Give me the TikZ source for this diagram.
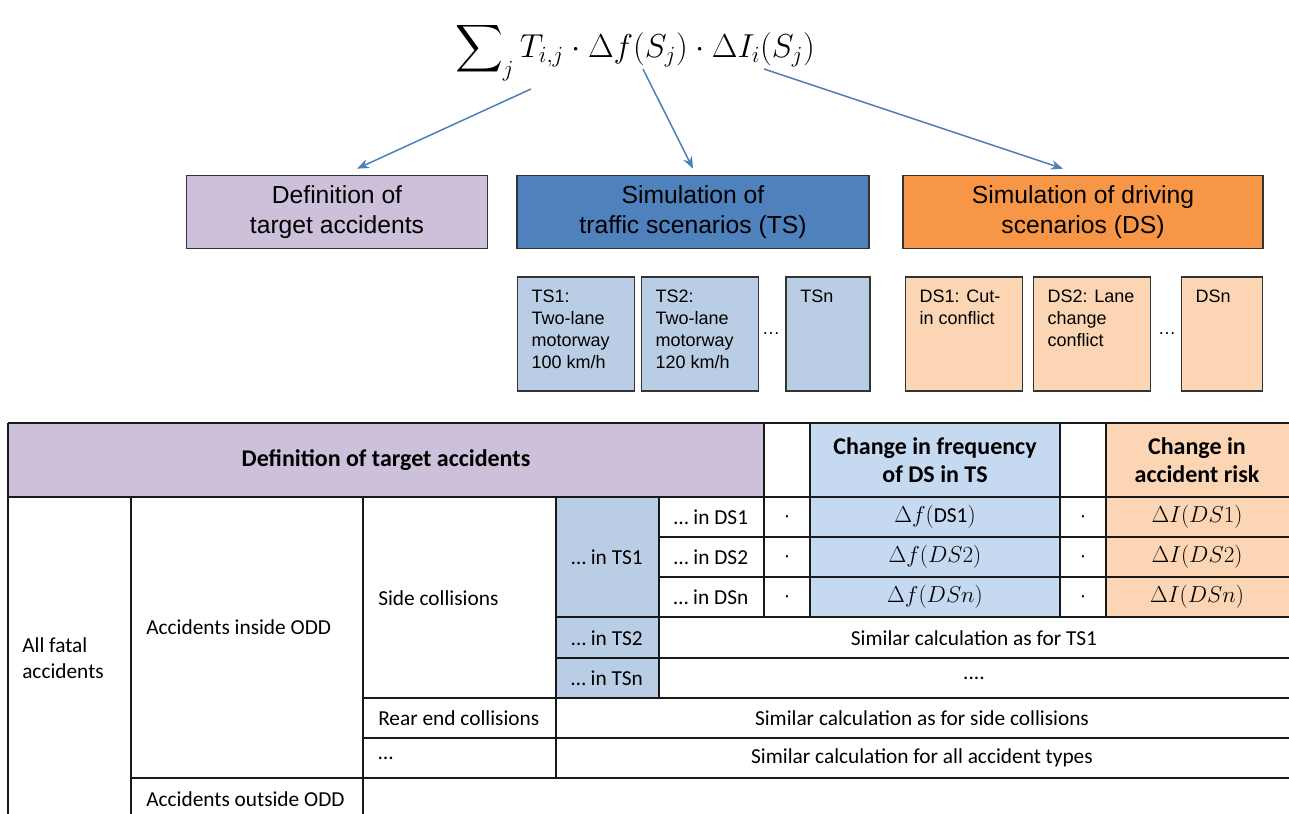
\documentclass[tikz,border=0pt]{standalone}
\usepackage{amsmath}
\usepackage{fontspec}
\setmainfont{Carlito}
\newfontfamily\arialfont{Liberation Sans}
\usetikzlibrary{arrows.meta,calc}

\definecolor{lilac}{RGB}{204,192,218}
\definecolor{tsdark}{RGB}{79,129,189}
\definecolor{dsdark}{RGB}{247,150,70}
\definecolor{tslight}{RGB}{185,205,229}
\definecolor{dslight}{RGB}{252,213,180}
\definecolor{freqblue}{RGB}{197,217,241}
\definecolor{arrblue}{RGB}{74,126,187}

\begin{document}
\begin{tikzpicture}[x=0.75pt,y=-0.75pt,
    bigbox/.style={draw=black!80,line width=1pt,minimum height=55pt,align=center,
        font=\arialfont\fontsize{18.5}{22.5}\selectfont},
    smallbox/.style={draw=black!80,line width=1pt,minimum height=85.5pt,minimum width=88pt},
    boxtext/.style={anchor=north west,align=left,inner xsep=11pt,inner ysep=10pt,
        font=\arialfont\fontsize{13.5}{16.5}\selectfont},
    arr/.style={draw=arrblue,line width=1.1pt,-{Stealth[length=9pt,width=7pt]}},
    tline/.style={line width=1.3pt,black!90},
    txt/.style={inner sep=0pt,align=left,font=\fontsize{16}{19.5}\selectfont},
    hd/.style={inner sep=0pt,align=center,font=\bfseries\fontsize{18}{21}\selectfont}]
    \useasboundingbox (0,0) rectangle (1289,814);
    \clip (0,0) rectangle (1289,814);

    % formula and the three parts
    \node[inner sep=0pt] at (635,52) (sum) {\fontsize{23}{28}\selectfont
        $\displaystyle\sum\nolimits_j T_{i,j}\cdot\Delta f(S_j)\cdot\Delta I_i(S_j)$};
    \coordinate (tij) at (531,89);
    \coordinate (fs) at (643,69);
    \coordinate (is) at (764,69);

    \node[bigbox,fill=lilac,minimum width=226pt] at (337,212) (def) {Definition of\\target accidents};
    \node[bigbox,fill=tsdark,minimum width=264pt] at (693,212) (ts) {Simulation of\\traffic scenarios (TS)};
    \node[bigbox,fill=dsdark,minimum width=270pt] at (1083,212) (ds) {Simulation of driving\\scenarios (DS)};
    \draw[arr] (tij)--([xshift=15pt,yshift=4.5pt]def.north);
    \draw[arr] (fs)--([yshift=4.5pt]ts.north);
    \draw[arr] (is)--([xshift=-15pt,yshift=4.5pt]ds.north);

    % scenario boxes
    \node[smallbox,fill=tslight,label={[boxtext]north west:TS1:\\Two-lane\\motorway\\100 km/h}] at (576,334) (ts1) {};
    \node[smallbox,fill=tslight,label={[boxtext]north west:TS2:\\Two-lane\\motorway\\120 km/h}] at (700,334) (ts2) {};
    \node[smallbox,fill=tslight,minimum width=63pt,label={[boxtext]north west:TSn}] at (828,334) (tsn) {};
    \node[font=\arialfont\fontsize{13.5}{16}\selectfont] at (771,334) (tsdots) {\dots};
    \node[smallbox,fill=dslight,label={[boxtext]north west:DS1: Cut-\\in conflict}] at (964,334) (ds1) {};
    \node[smallbox,fill=dslight,label={[boxtext]north west:DS2: Lane\\change\\conflict}] at (1092,334) (ds2) {};
    \node[smallbox,fill=dslight,minimum width=61pt,label={[boxtext]north west:DSn}] at (1222,334) (dsn) {};
    \node[font=\arialfont\fontsize{13.5}{16}\selectfont] at (1167,334) (dsdots) {\dots};

    % table
    \fill[lilac] (8,423) rectangle (764,497);
    \fill[freqblue] (810,423) rectangle (1060,617);
    \fill[dslight] (1106,423) rectangle (1300,617);
    \fill[tslight] (556,497) rectangle (659,698);
    \foreach \y/\xa in {423/8,497/8,537/659,577/659,617/556,658/556,698/363,738/363,778/131}
        \draw[tline] (\xa,\y)--(1300,\y);
    \foreach \x/\ya/\yb in {8/423/830,131/497/830,363/497/830,556/497/778,659/497/698,
        764/423/617,810/423/617,1060/423/617,1106/423/617}
        \draw[tline] (\x,\ya)--(\x,\yb);

    \node[hd] at (386,460) (hdef) {Definition of target accidents};
    \node[hd] at (935,460) (hfreq) {Change in frequency\\of DS in TS};
    \node[hd] at (1197,460) (hrisk) {Change in\\accident risk};
    \node[txt,anchor=west] at (22,658) (all) {All fatal\\accidents};
    \node[txt,anchor=west] at (146,627) (inodd) {Accidents inside ODD};
    \node[txt,anchor=west] at (146,799) (outodd) {Accidents outside ODD};
    \node[txt,anchor=west] at (378,598) (side) {Side collisions};
    \node[txt,anchor=west] at (378,718) (rear) {Rear end collisions};
    \node[txt,anchor=west] at (378,758) (other) {\dots};
    \node[txt] at (607,557) (inta) {\dots{} in TS1};
    \node[txt] at (607,638) (intb) {\dots{} in TS2};
    \node[txt] at (607,678) (intn) {\dots{} in TSn};
    \foreach \y/\d/\f in {517/1/{\mathrm{DS1}},557/2/{DS2},597/n/{DSn}}{
        \node[txt] at (711,\y) (ind\d) {\dots{} in DS\d};
        \node[txt] at (787,\y) (dota\d) {$\cdot$};
        \node[txt] at (935,\y) (freq\d) {$\Delta f(\f)$};
        \node[txt] at (1083,\y) (dotb\d) {$\cdot$};
        \node[txt] at (1197,\y) (risk\d) {$\Delta I(DS\d)$};
    }
    \node[txt] at (974,638) (simts) {Similar calculation as for TS1};
    \node[txt] at (974,678) (simdots) {....};
    \node[txt] at (922,718) (simside) {Similar calculation as for side collisions};
    \node[txt] at (922,758) (simall) {Similar calculation for all accident types};
\end{tikzpicture}
\end{document}
